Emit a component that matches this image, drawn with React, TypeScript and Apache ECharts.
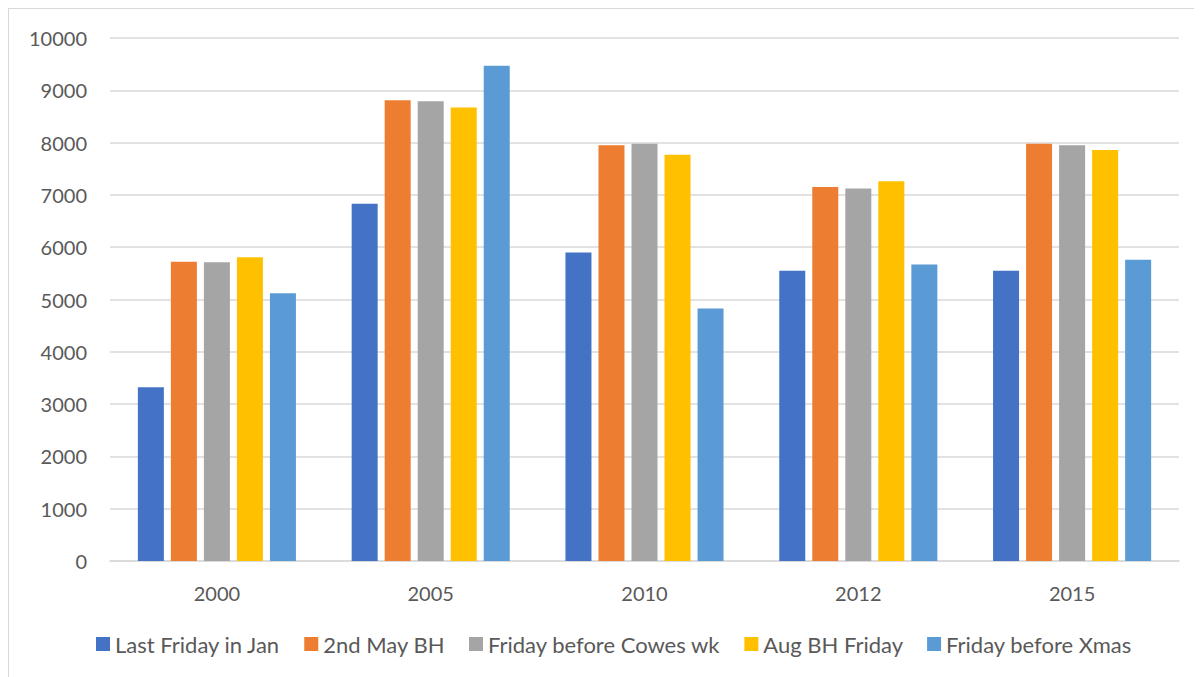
import React, { useEffect, useRef } from "react";
import * as echarts from "echarts";

const categories = ["2000", "2005", "2010", "2012", "2015"];
const seriesNames = [
  "Last Friday in Jan",
  "2nd May BH",
  "Friday before Cowes wk",
  "Aug BH Friday",
  "Friday before Xmas",
];
const lastFridayJan = [3320, 6830, 5900, 5550, 5550];
const secondMayBH = [5720, 8810, 7950, 7150, 7980];
const fridayBeforeCowes = [5710, 8790, 7980, 7120, 7950];
const augBHFriday = [5810, 8670, 7770, 7260, 7860];
const fridayBeforeXmas = [5120, 9470, 4830, 5670, 5760];
const colors = ["#4472C4", "#ED7D31", "#A5A5A5", "#FFC000", "#5B9BD5"];

const FONT = "Lato, 'Open Sans', sans-serif";

export default function App() {
  const ref = useRef<HTMLDivElement>(null);
  useEffect(() => {
    if (!ref.current) return;
    const chart = echarts.init(ref.current, null, { renderer: "svg" });
    const data = [lastFridayJan, secondMayBH, fridayBeforeCowes, augBHFriday, fridayBeforeXmas];
    chart.setOption({
      animation: false,
      color: colors,
      textStyle: { fontFamily: FONT },
      grid: { left: 101, top: 29, width: 1069, height: 523, containLabel: false },
      legend: {
        bottom: 18,
        left: 82,
        itemWidth: 14,
        itemHeight: 14,
        itemGap: 24,
        icon: "rect",
        textStyle: { fontFamily: FONT, fontSize: 22, color: "#595959" },
        data: seriesNames,
      },
      xAxis: {
        type: "category",
        data: categories,
        axisTick: { show: false },
        axisLine: { lineStyle: { color: "#d9d9d9", width: 1.5 } },
        axisLabel: { color: "#595959", fontSize: 20, margin: 22, fontFamily: FONT },
      },
      yAxis: {
        type: "value",
        min: 0,
        max: 10000,
        interval: 1000,
        axisLine: { show: false },
        axisTick: { show: false },
        splitLine: { lineStyle: { color: "#d9d9d9", width: 1.5 } },
        axisLabel: {
          color: "#595959",
          fontSize: 20,
          margin: 23,
          fontFamily: FONT,
          formatter: (v: number) => String(v),
        },
      },
      series: seriesNames.map((name, i) => ({
        name,
        type: "bar",
        data: data[i],
        barWidth: 26,
        barGap: "27%",
        itemStyle: { color: colors[i] },
      })),
    });
    return () => chart.dispose();
  }, []);
  return (
    <div
      style={{
        width: 1194,
        height: 669,
        borderTop: "1px solid #d9d9d9",
        borderLeft: "1px solid #d9d9d9",
        background: "#fff",
      }}
    >
      <div ref={ref} style={{ width: 1194, height: 669 }} />
    </div>
  );
}
